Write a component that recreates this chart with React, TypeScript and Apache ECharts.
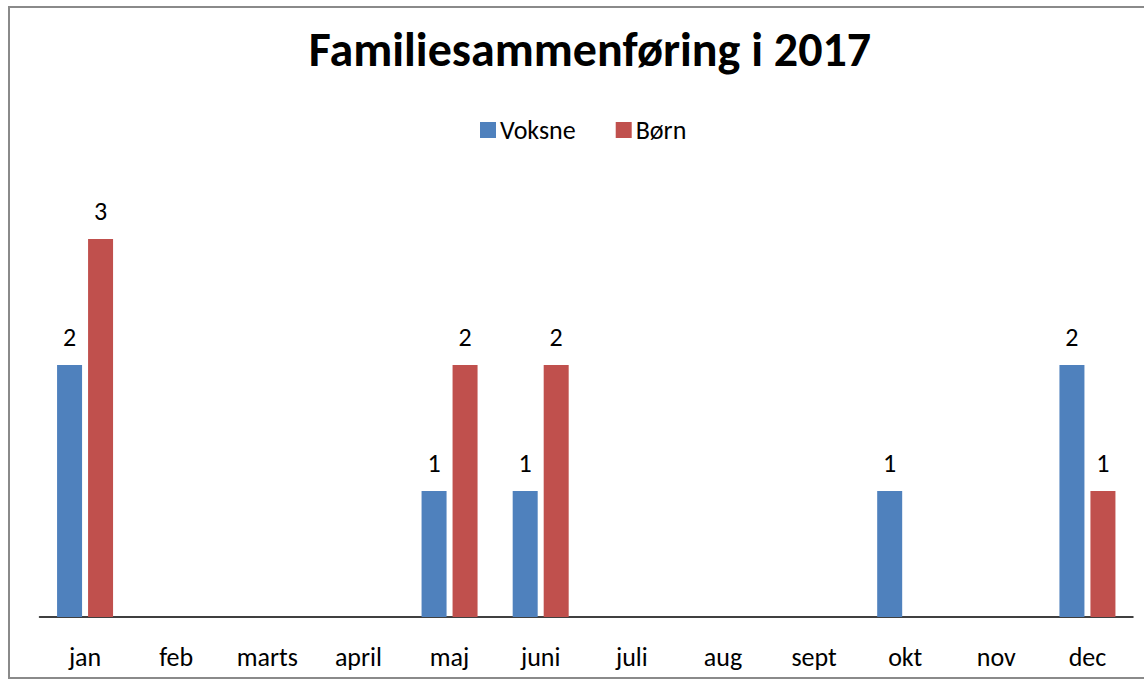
import React, { useEffect, useRef } from "react";
import * as echarts from "echarts";

const categories = ["jan", "feb", "marts", "april", "maj", "juni", "juli", "aug", "sept", "okt", "nov", "dec"];
const voksne: (number | null)[] = [2, null, null, null, 1, 1, null, null, null, 1, null, 2];
const born: (number | null)[] = [3, null, null, null, 2, 2, null, null, null, null, null, 1];

const FONT = "Carlito, Lato, sans-serif";

export default function App() {
  const ref = useRef<HTMLDivElement>(null);
  useEffect(() => {
    if (!ref.current) return;
    const chart = echarts.init(ref.current, null, { renderer: "svg" });
    const labelStyle = {
      show: true,
      position: "top" as const,
      distance: 15,
      fontSize: 26,
      fontFamily: FONT,
      color: "#000",
    };
    chart.setOption({
      animation: false,
      backgroundColor: "#fff",
      title: {
        text: "Familiesammenføring i 2017",
        left: 585,
        textAlign: "center",
        top: 20,
        textStyle: { fontSize: 48, fontWeight: "bold", fontFamily: FONT, color: "#000" },
      },
      legend: {
        data: ["Voksne", "Børn"],
        left: 475,
        top: 112,
        itemWidth: 16,
        itemHeight: 16,
        itemGap: 40,
        icon: "rect",
        textStyle: { fontSize: 26, fontFamily: FONT, color: "#000", padding: [0, 0, 0, -1] },
      },
      graphic: [
        {
          type: "rect",
          shape: { x: 9, y: 7, width: 1200, height: 671 },
          style: { fill: "none", stroke: "#8a8a8a", lineWidth: 2 },
          silent: true,
        },
      ],
      grid: { left: 39.5, right: 11, top: 176, bottom: 64 },
      xAxis: {
        type: "category",
        data: categories,
        axisLine: { show: true, lineStyle: { color: "#000", width: 1.5 } },
        axisTick: { show: false },
        axisLabel: { fontSize: 26, fontFamily: FONT, color: "#000", margin: 27, interval: 0 },
      },
      yAxis: {
        type: "value",
        min: 0,
        max: 3.5,
        show: false,
        splitLine: { show: false },
      },
      series: [
        {
          name: "Voksne",
          type: "bar",
          data: voksne,
          barWidth: 25,
          barGap: "24%",
          itemStyle: { color: "#4F81BD" },
          label: labelStyle,
        },
        {
          name: "Børn",
          type: "bar",
          data: born,
          barWidth: 25,
          barGap: "24%",
          itemStyle: { color: "#C0504D" },
          label: labelStyle,
        },
      ],
    });
    return () => chart.dispose();
  }, []);
  return (
    <div
      ref={ref}
      style={{ position: "absolute", left: 0, top: 0, width: 1144, height: 681 }}
    />
  );
}
